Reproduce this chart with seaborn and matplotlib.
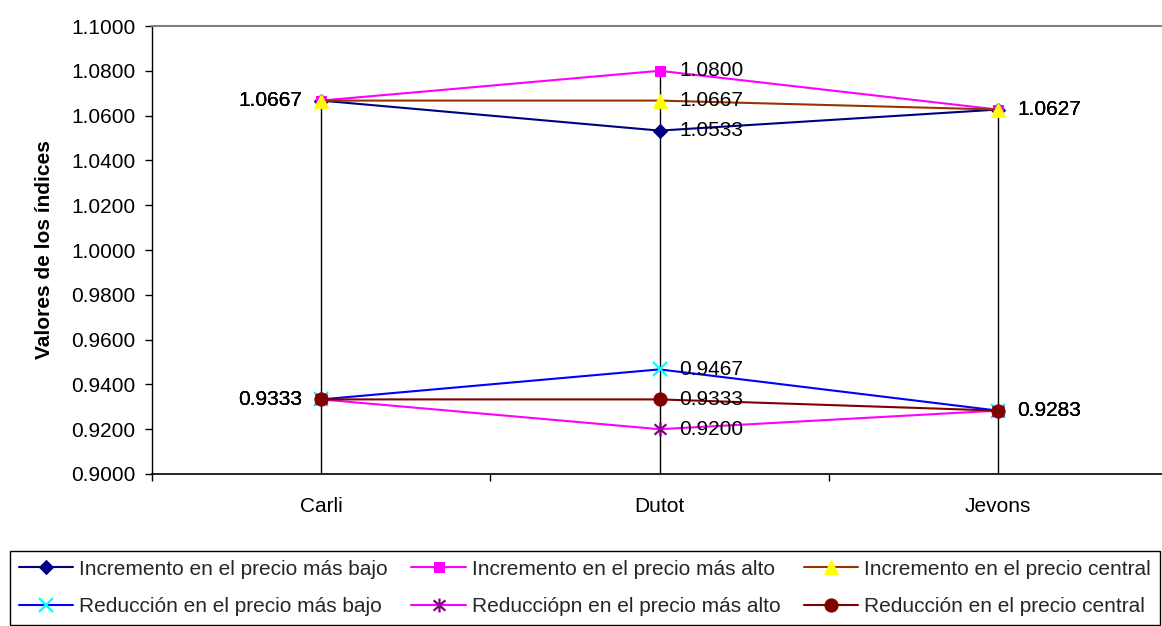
import numpy as np
import pandas as pd
import matplotlib
matplotlib.use("Agg")
import matplotlib.pyplot as plt
from matplotlib.path import Path
import seaborn as sns

categories = ["Carli", "Dutot", "Jevons"]
series_names = [
    "Incremento en el precio más bajo",
    "Incremento en el precio más alto",
    "Incremento en el precio central",
    "Reducción en el precio más bajo",
    "Reducciópn en el precio más alto",
    "Reducción en el precio central",
]
inc_bajo = [1.0667, 1.0533, 1.0627]
inc_alto = [1.0667, 1.0800, 1.0627]
inc_central = [1.0667, 1.0667, 1.0627]
red_bajo = [0.9333, 0.9467, 0.9283]
red_alto = [0.9333, 0.9200, 0.9283]
red_central = [0.9333, 0.9333, 0.9283]
y_ticks = [0.90, 0.92, 0.94, 0.96, 0.98, 1.00, 1.02, 1.04, 1.06, 1.08, 1.10]
y_label = "Valores de los índices"

all_values = [inc_bajo, inc_alto, inc_central, red_bajo, red_alto, red_central]

star = Path(
    [(0, -1), (0, 1), (-0.85, -0.75), (0.85, 0.75), (-0.85, 0.75), (0.85, -0.75)],
    [Path.MOVETO, Path.LINETO, Path.MOVETO, Path.LINETO, Path.MOVETO, Path.LINETO],
)

styles = [
    dict(color="#000080", marker="D", markersize=7.5, markerfacecolor="#000080", markeredgecolor="#000080"),
    dict(color="#FF00FF", marker="s", markersize=7.5, markerfacecolor="#FF00FF", markeredgecolor="#FF00FF"),
    dict(color="#993300", marker="^", markersize=10.5, markerfacecolor="#FFFF00", markeredgecolor="#FFFF00"),
    dict(color="#0000FF", marker="x", markersize=9.5, markeredgewidth=1.6, markeredgecolor="#00FFFF"),
    dict(color="#FF00FF", marker=star, markersize=10, markeredgewidth=1.6, markeredgecolor="#800080"),
    dict(color="#800000", marker="o", markersize=9.5, markerfacecolor="#800000", markeredgecolor="#800000"),
]

sns.set_theme(style="white")
plt.rcParams["font.family"] = ["Liberation Sans", "DejaVu Sans"]
FS = 15

fig = plt.figure(figsize=(11.62, 6.26), dpi=100)
ax = fig.add_axes([152 / 1162, 1 - 474 / 626, (1167 - 152) / 1162, (474 - 26) / 626])

x = np.arange(len(categories))

# drop lines
tops = np.max(np.array(all_values), axis=0)
ax.vlines(x, y_ticks[0], tops, color="black", lw=1, zorder=1.5)

for i, (name, vals, st) in enumerate(zip(series_names, all_values, styles)):
    df = pd.DataFrame({"x": x, "y": vals})
    sns.lineplot(data=df, x="x", y="y", ax=ax, label=name, linewidth=1.5,
                 zorder=3 + i, sort=False, **st)
    for xi, yi in zip(x, vals):
        if xi == 0:
            ax.annotate(f"{yi:.4f}", (xi, yi), xytext=(-13.5, 0), textcoords="offset points",
                        ha="right", va="center", fontsize=FS, color="black", zorder=20)
        else:
            ax.annotate(f"{yi:.4f}", (xi, yi), xytext=(14, 0), textcoords="offset points",
                        ha="left", va="center", fontsize=FS, color="black", zorder=20)

leg = ax.get_legend()
if leg is not None:
    leg.remove()

ax.set_xlim(-0.5, len(categories) - 0.5)
ax.set_ylim(y_ticks[0], y_ticks[-1])
ax.set_yticks(y_ticks)
ax.set_yticklabels([f"{v:.4f}" for v in y_ticks], fontsize=FS)
ax.set_xticks(x)
ax.set_xticklabels(categories, fontsize=FS)
ax.set_xticks(np.arange(-0.5, len(categories), 1.0), minor=True)
ax.tick_params(axis="x", which="major", length=0, pad=16.5, colors="black")
ax.tick_params(axis="x", which="minor", length=5, width=1, color="black", direction="out", bottom=True)
ax.tick_params(axis="y", which="major", length=5, width=1, color="black", direction="out", left=True, pad=7, colors="black")
ax.set_xlabel("")
ax.set_ylabel(y_label, fontsize=FS, fontweight="bold", labelpad=12, color="black")

ax.spines["left"].set_color("black")
ax.spines["left"].set_linewidth(1)
ax.spines["bottom"].set_color("black")
ax.spines["bottom"].set_linewidth(1.2)
ax.spines["top"].set_color("#808080")
ax.spines["top"].set_linewidth(1.5)
ax.spines["right"].set_visible(False)
ax.grid(False)

handles, labels = ax.get_legend_handles_labels()
# reorder for row-wise filling in 3 columns, 2 rows
order = [0, 3, 1, 4, 2, 5]
fig.legend([handles[i] for i in order], [labels[i] for i in order],
           loc="upper left", bbox_to_anchor=(10 / 1162, 0, 1150 / 1162, 1 - 551 / 626),
           mode="expand", ncol=3, fontsize=FS, frameon=True, fancybox=False,
           edgecolor="black", framealpha=1, borderaxespad=0, borderpad=0.42,
           handlelength=2.6, handletextpad=0.3, labelspacing=0.9, columnspacing=1.0)
fig.legends[0].get_frame().set_linewidth(1)

fig.savefig("out.png", dpi=100, facecolor="white")
